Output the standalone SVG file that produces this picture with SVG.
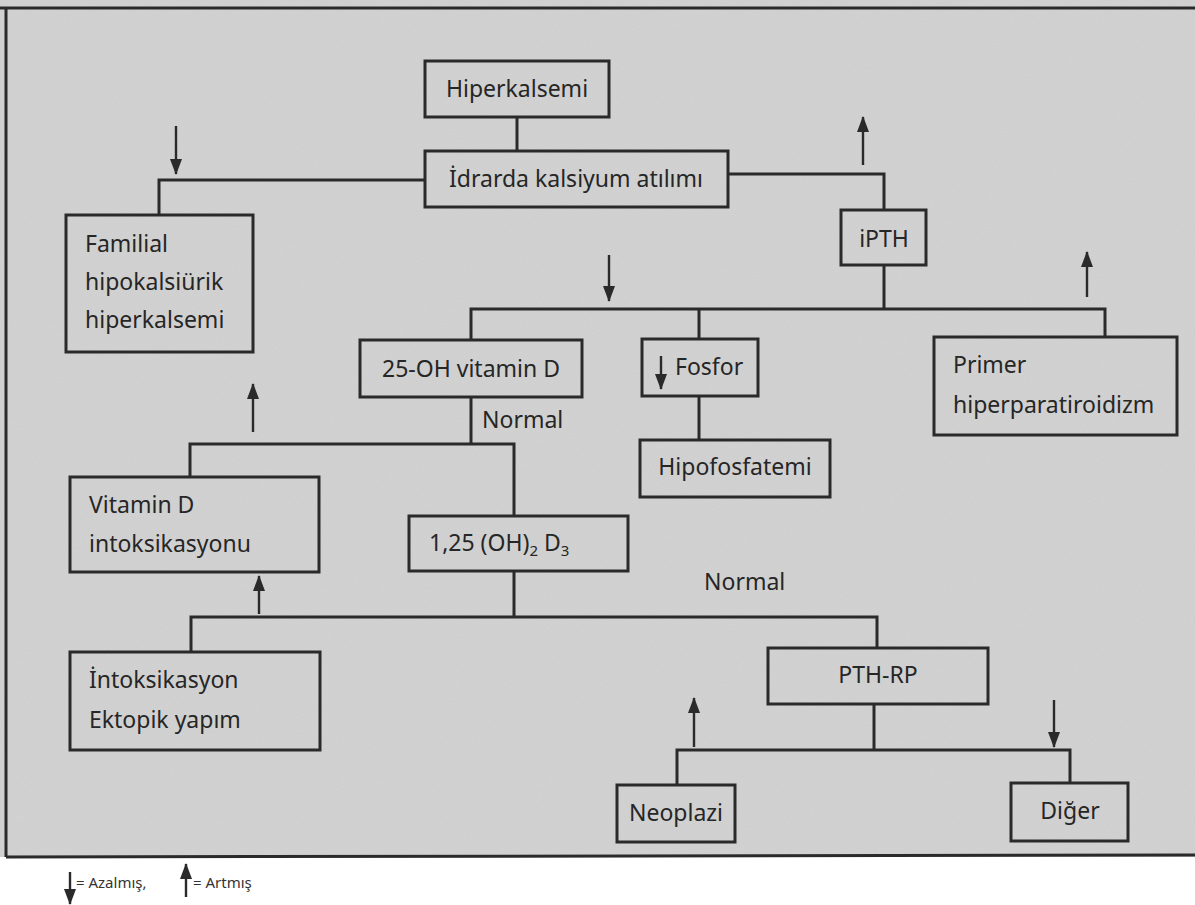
<svg xmlns="http://www.w3.org/2000/svg" width="1195" height="905" viewBox="0 0 1195 905">
<style>
.box{fill:none;stroke:#2a2a2a;stroke-width:3}
.ln{fill:none;stroke:#2a2a2a;stroke-width:3}
.ar{fill:none;stroke:#2a2a2a;stroke-width:2.4}
.t{font-family:"Noto Sans","Open Sans",sans-serif;font-size:23px;fill:#262626}
.lg{font-family:"Noto Sans","Open Sans",sans-serif;font-size:15px;fill:#333}
</style>
<defs>
<marker id="ah" viewBox="0 0 16 12" refX="15" refY="6" markerWidth="16" markerHeight="12" markerUnits="userSpaceOnUse" orient="auto">
<path d="M0,0 L16,6 L0,12 Z" fill="#2a2a2a"/>
</marker>
<filter id="noise" x="0" y="0" width="100%" height="100%">
<feTurbulence type="fractalNoise" baseFrequency="0.9" numOctaves="2" seed="3" result="n"/>
<feColorMatrix type="matrix" values="0 0 0 0 0.5  0 0 0 0 0.5  0 0 0 0 0.5  0 0 0 0.3 0" />
</filter>
</defs>
<rect width="1195" height="905" fill="#ffffff"/>
<rect x="0" y="0" width="1195" height="857" fill="#d4d4d4"/>
<rect x="0" y="0" width="1195" height="857" filter="url(#noise)"/>
<g id="frame">
<line x1="0" y1="8" x2="1195" y2="8" class="ln"/>
<line x1="6" y1="8" x2="6" y2="857" class="ln"/>
<line x1="6" y1="857" x2="1195" y2="855" class="ln"/>
</g>
<g id="connectors">
<path class="ln" d="M517,117 V151"/>
<path class="ln" d="M425,180 H159 V215"/>
<path class="ln" d="M728,174 H884 V210"/>
<path class="ln" d="M884,265 V309"/>
<path class="ln" d="M471,340 V309 H1105 V337"/>
<path class="ln" d="M699,309 V339"/>
<path class="ln" d="M699,396 V440"/>
<path class="ln" d="M471,397 V444"/>
<path class="ln" d="M190,477 V444 H514 V516"/>
<path class="ln" d="M514,571 V617"/>
<path class="ln" d="M191,652 V617 H877 V648"/>
<path class="ln" d="M874,704 V750"/>
<path class="ln" d="M677,785 V750 H1070 V783"/>
<line class="ar" x1="176" y1="126" x2="176" y2="174" marker-end="url(#ah)"/>
<line class="ar" x1="863" y1="165" x2="863" y2="117" marker-end="url(#ah)"/>
<line class="ar" x1="609" y1="255" x2="609" y2="301" marker-end="url(#ah)"/>
<line class="ar" x1="1087" y1="297" x2="1087" y2="252" marker-end="url(#ah)"/>
<line class="ar" x1="253" y1="432" x2="253" y2="384" marker-end="url(#ah)"/>
<line class="ar" x1="259" y1="614" x2="259" y2="576" marker-end="url(#ah)"/>
<line class="ar" x1="694" y1="747" x2="694" y2="698" marker-end="url(#ah)"/>
<line class="ar" x1="1054" y1="700" x2="1054" y2="747" marker-end="url(#ah)"/>
<text class="t" x="482" y="428">Normal</text>
<text class="t" x="704" y="590">Normal</text>
</g>
<g id="n-hiperkalsemi"><rect class="box" x="425" y="61" width="184" height="56"/><text class="t" x="517" y="97" text-anchor="middle">Hiperkalsemi</text></g>
<g id="n-idrarda"><rect class="box" x="425" y="151" width="303" height="56"/><text class="t" x="576" y="187" text-anchor="middle">İdrarda kalsiyum atılımı</text></g>
<g id="n-familial"><rect class="box" x="66" y="215" width="187" height="137"/><text class="t" x="85" y="252">Familial</text><text class="t" x="85" y="290">hipokalsiürik</text><text class="t" x="85" y="328">hiperkalsemi</text></g>
<g id="n-ipth"><rect class="box" x="841" y="210" width="85" height="55"/><text class="t" x="884" y="247" text-anchor="middle">iPTH</text></g>
<g id="n-25oh"><rect class="box" x="360" y="340" width="222" height="57"/><text class="t" x="471" y="377" text-anchor="middle">25-OH vitamin D</text></g>
<g id="n-fosfor"><rect class="box" x="642" y="339" width="116" height="57"/><line class="ar" x1="661" y1="356" x2="661" y2="389" marker-end="url(#ah)"/><text class="t" x="675" y="375">Fosfor</text></g>
<g id="n-hipofosfatemi"><rect class="box" x="640" y="440" width="190" height="57"/><text class="t" x="735" y="475" text-anchor="middle">Hipofosfatemi</text></g>
<g id="n-primer"><rect class="box" x="934" y="337" width="243" height="98"/><text class="t" x="953" y="373">Primer</text><text class="t" x="953" y="413">hiperparatiroidizm</text></g>
<g id="n-vitd"><rect class="box" x="70" y="477" width="249" height="95"/><text class="t" x="89" y="513">Vitamin D</text><text class="t" x="89" y="552">intoksikasyonu</text></g>
<g id="n-125"><rect class="box" x="409" y="516" width="219" height="55"/><text class="t" x="429" y="551">1,25 (OH)<tspan font-size="15" dy="5">2</tspan><tspan dy="-5"> D</tspan><tspan font-size="15" dy="5">3</tspan></text></g>
<g id="n-intoks"><rect class="box" x="70" y="652" width="250" height="98"/><text class="t" x="89" y="688">İntoksikasyon</text><text class="t" x="89" y="728">Ektopik yapım</text></g>
<g id="n-pthrp"><rect class="box" x="768" y="648" width="220" height="56"/><text class="t" x="878" y="683" text-anchor="middle">PTH-RP</text></g>
<g id="n-neoplazi"><rect class="box" x="617" y="785" width="118" height="57"/><text class="t" x="676" y="821" text-anchor="middle">Neoplazi</text></g>
<g id="n-diger"><rect class="box" x="1011" y="783" width="117" height="58"/><text class="t" x="1070" y="819" text-anchor="middle">Diğer</text></g>
<g id="legend">
<line class="ar" x1="70" y1="872" x2="70" y2="904" marker-end="url(#ah)"/>
<text class="lg" x="76" y="888">= Azalmış,</text>
<line class="ar" x1="186" y1="897" x2="186" y2="864" marker-end="url(#ah)"/>
<text class="lg" x="193" y="888">= Artmış</text>
</g>
</svg>
